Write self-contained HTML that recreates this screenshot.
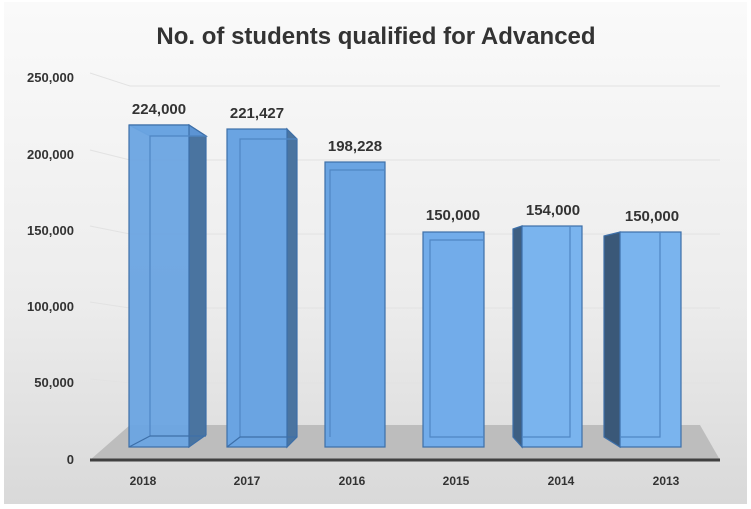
<!DOCTYPE html>
<html><head><meta charset="utf-8"><style>
body{margin:0;background:#fff}
svg{display:block;font-family:"Liberation Sans",Arial,sans-serif}
</style></head><body>
<svg width="751" height="509" viewBox="0 0 751 509">
<defs>
<linearGradient id="bg" x1="0" y1="0" x2="0" y2="1">
<stop offset="0" stop-color="#fafafa"/><stop offset="0.6" stop-color="#ececec"/><stop offset="1" stop-color="#d9d9d9"/>
</linearGradient>
</defs>
<rect x="0" y="0" width="751" height="509" fill="#fff"/>
<rect x="4" y="2" width="743" height="502" fill="url(#bg)"/>
<text x="376" y="44" text-anchor="middle" font-size="24" font-weight="bold" fill="#333">No. of students qualified for Advanced</text>
<g stroke="#e2e2e2" stroke-width="1" fill="none">
<polyline points="90,73 130,86 720,86"/>
<polyline points="90,150 130,160 720,160"/>
<polyline points="90,226 130,234 720,234"/>
<polyline points="90,302 130,308 720,308"/>
<polyline points="90,379 130,383 720,383"/>
</g>
<polygon points="90,460 130,425 700,425 720,460" fill="#bdbdbd"/>
<line x1="90" y1="460" x2="720" y2="460" stroke="#404040" stroke-width="3"/>
<g font-size="13" font-weight="bold" fill="#333" text-anchor="end">
<text x="74" y="82">250,000</text><text x="74" y="159">200,000</text><text x="74" y="235">150,000</text>
<text x="74" y="311">100,000</text><text x="74" y="387">50,000</text><text x="74" y="464">0</text>
</g>
<g font-size="12" font-weight="bold" fill="#333" text-anchor="middle">
<text x="143" y="485">2018</text><text x="247" y="485">2017</text><text x="352" y="485">2016</text>
<text x="456" y="485">2015</text><text x="561" y="485">2014</text><text x="666" y="485">2013</text>
</g>
<g stroke="#3d6fa8" stroke-width="1.2">
<polygon points="189,125 206,136 206,435 189,447" fill="#4a74a0"/>
<polygon points="129,125 189,125 206,136 150,136" fill="#5c94d4"/>
<rect x="129" y="125" width="60" height="322" fill="#6aa4e2" fill-opacity="0.95"/>
<polyline points="150,436 150,136 206,136" fill="none" stroke="#4f86c4"/><line x1="129" y1="447" x2="150" y2="436"/><line x1="150" y1="436" x2="206" y2="436" />
<polygon points="287,129 297,139 297,437 287,447" fill="#4a74a0"/>
<rect x="227" y="129" width="60" height="318" fill="#6aa4e2"/>
<polyline points="240,437 240,139 297,139" fill="none" stroke="#4f86c4"/><line x1="240" y1="437" x2="297" y2="437"/><line x1="227" y1="447" x2="240" y2="437"/>
<rect x="325" y="162" width="60" height="285" fill="#6aa4e2"/>
<polyline points="330,437 330,170 385,170" fill="none" stroke="#4f86c4"/>
<rect x="423" y="232" width="61" height="215" fill="#72acea"/>
<polyline points="484,240 430,240 430,437 484,437" fill="none" stroke="#4f86c4"/>
<polygon points="513,229 522,226 522,447 513,437" fill="#3e5f82"/>
<rect x="522" y="226" width="60" height="221" fill="#7ab4ee"/>
<polyline points="570,226 570,437 522,437" fill="none" stroke="#4f86c4"/>
<polygon points="604,236 620,232 620,447 604,437" fill="#3a5878"/>
<rect x="620" y="232" width="61" height="215" fill="#7ab4ee"/>
<polyline points="660,232 660,437 620,437" fill="none" stroke="#4f86c4"/>
</g>
<g font-size="15" font-weight="bold" fill="#333" text-anchor="middle">
<text x="159" y="114">224,000</text><text x="257" y="118">221,427</text><text x="355" y="151">198,228</text>
<text x="453" y="220">150,000</text><text x="553" y="215">154,000</text><text x="652" y="221">150,000</text>
</g>
</svg>
</body></html>
